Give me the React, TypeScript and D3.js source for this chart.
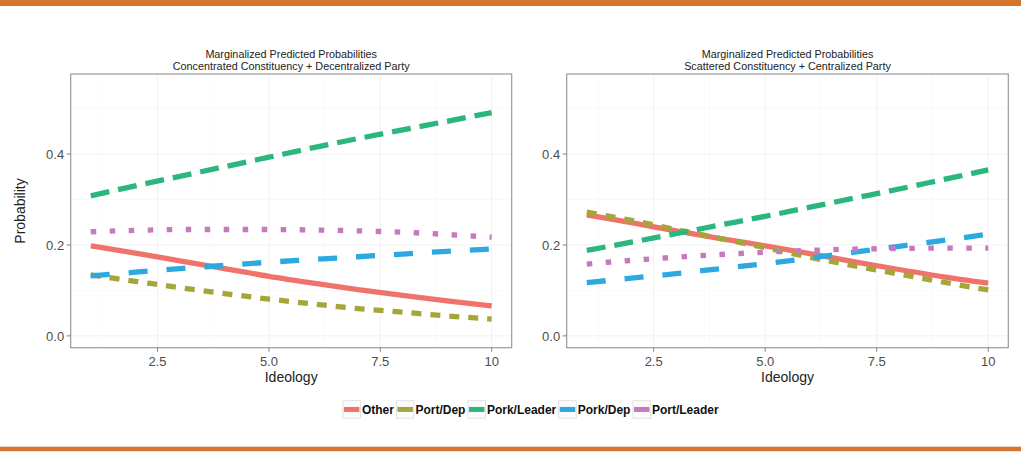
import * as d3 from "d3";

const ideology = [1, 2, 3, 4, 5, 6, 7, 8, 9, 10];

const seriesNames = ["Other", "Port/Dep", "Pork/Leader", "Pork/Dep", "Port/Leader"];
const seriesColors = ["#F0736B", "#A4A639", "#2BB67E", "#2CA9E1", "#C57AC0"];
const seriesDashes = ["none", "10 9", "19 9", "19 19", "5.5 13.5"];

// left panel: Concentrated Constituency + Decentralized Party
const leftOther = [0.198, 0.182, 0.165, 0.148, 0.131, 0.116, 0.102, 0.089, 0.077, 0.066];
const leftPortDep = [0.134, 0.12, 0.106, 0.093, 0.081, 0.07, 0.06, 0.052, 0.044, 0.037];
const leftPorkLeader = [0.308, 0.33, 0.351, 0.372, 0.393, 0.414, 0.434, 0.453, 0.472, 0.491];
const leftPorkDep = [0.132, 0.14, 0.148, 0.155, 0.162, 0.168, 0.174, 0.18, 0.186, 0.191];
const leftPortLeader = [0.229, 0.232, 0.234, 0.234, 0.234, 0.233, 0.231, 0.228, 0.223, 0.217];

// right panel: Scattered Constituency + Centralized Party
const rightOther = [0.266, 0.249, 0.231, 0.214, 0.198, 0.181, 0.163, 0.146, 0.13, 0.116];
const rightPortDep = [0.272, 0.254, 0.234, 0.214, 0.194, 0.173, 0.154, 0.136, 0.118, 0.101];
const rightPorkLeader = [0.188, 0.206, 0.225, 0.244, 0.263, 0.283, 0.303, 0.323, 0.344, 0.365];
const rightPorkDep = [0.117, 0.127, 0.137, 0.148, 0.159, 0.171, 0.184, 0.197, 0.21, 0.224];
const rightPortLeader = [0.158, 0.166, 0.173, 0.179, 0.184, 0.188, 0.191, 0.192, 0.193, 0.193];

const xTicks = [2.5, 5.0, 7.5, 10];
const xTickLabels = ["2.5", "5.0", "7.5", "10"];
const yTicks = [0, 0.2, 0.4];
const yTickLabels = ["0.0", "0.2", "0.4"];

const W = 1024;
const H = 453;
const FONT = "'Liberation Sans', Arial, Helvetica, sans-serif";
const ORANGE = "#D4742D";

const panels = [
  {
    title: ["Marginalized Predicted Probabilities", "Concentrated Constituency + Decentralized Party"],
    series: [leftOther, leftPortDep, leftPorkLeader, leftPorkDep, leftPortLeader],
    x0: 70.7,
    x1: 511.7,
  },
  {
    title: ["Marginalized Predicted Probabilities", "Scattered Constituency + Centralized Party"],
    series: [rightOther, rightPortDep, rightPorkLeader, rightPorkDep, rightPortLeader],
    x0: 566.7,
    x1: 1008.3,
  },
];

const top = 74;
const bottom = 347.7;

const y = d3.scaleLinear().domain([-0.026, 0.576]).range([bottom, top]);

function textWidth(s: string, font: string) {
  const c = document.createElement("canvas").getContext("2d");
  if (!c) return s.length * 7;
  c.font = font;
  return c.measureText(s).width;
}

function Panel({ p }: { p: (typeof panels)[number] }) {
  const x = d3.scaleLinear().domain([0.55, 10.45]).range([p.x0, p.x1]);
  const line = d3
    .line<number>()
    .x((_, i) => x(ideology[i]))
    .y((d) => y(d))
    .curve(d3.curveMonotoneX);
  const cx = (p.x0 + p.x1) / 2;
  const xMinor = xTicks.map((t) => t - 1.25);
  const yMinor = yTicks.map((t) => t + 0.1);
  return (
    <g>
      <rect x={p.x0} y={top} width={p.x1 - p.x0} height={bottom - top} fill="#fff" />
      {xMinor.map((t) => (
        <line key={"xm" + t} x1={x(t)} x2={x(t)} y1={top} y2={bottom} stroke="#f8f8f8" strokeWidth={0.8} />
      ))}
      {yMinor.map((t) => (
        <line key={"ym" + t} x1={p.x0} x2={p.x1} y1={y(t)} y2={y(t)} stroke="#f8f8f8" strokeWidth={0.8} />
      ))}
      {xTicks.map((t) => (
        <line key={"xg" + t} x1={x(t)} x2={x(t)} y1={top} y2={bottom} stroke="#f1f1f1" strokeWidth={1} />
      ))}
      {yTicks.map((t) => (
        <line key={"yg" + t} x1={p.x0} x2={p.x1} y1={y(t)} y2={y(t)} stroke="#f1f1f1" strokeWidth={1} />
      ))}
      {p.series.map((s, i) => (
        <path
          key={seriesNames[i]}
          d={line(s) || ""}
          fill="none"
          stroke={seriesColors[i]}
          strokeWidth={5.3}
          strokeDasharray={seriesDashes[i]}
          strokeLinecap="butt"
        />
      ))}
      <rect x={p.x0} y={top} width={p.x1 - p.x0} height={bottom - top} fill="none" stroke="#9a9a9a" strokeWidth={1.2} />
      {xTicks.map((t, i) => (
        <g key={"xt" + t}>
          <line x1={x(t)} x2={x(t)} y1={bottom} y2={bottom + 4} stroke="#7f7f7f" strokeWidth={1} />
          <text x={x(t)} y={365.5} textAnchor="middle" fontSize={13} fill="#4d4d4d" fontFamily={FONT}>
            {xTickLabels[i]}
          </text>
        </g>
      ))}
      {yTicks.map((t, i) => (
        <g key={"yt" + t}>
          <line x1={p.x0 - 4} x2={p.x0} y1={y(t)} y2={y(t)} stroke="#7f7f7f" strokeWidth={1} />
          <text x={p.x0 - 6.5} y={y(t)} dy="0.36em" textAnchor="end" fontSize={13} fill="#4d4d4d" fontFamily={FONT}>
            {yTickLabels[i]}
          </text>
        </g>
      ))}
      <text x={cx} y={382} textAnchor="middle" fontSize={14} fill="#222" fontFamily={FONT}>
        Ideology
      </text>
      {p.title.map((t, i) => (
        <text key={t} x={cx} y={58 + i * 11.5} textAnchor="middle" fontSize={10.8} fill="#222" fontFamily={FONT}>
          {t}
        </text>
      ))}
    </g>
  );
}

function Legend() {
  const font = `bold 12px ${FONT}`;
  const key = 17.5;
  const widths = seriesNames.map((n) => key + 1.5 + textWidth(n, font) + 2.5);
  const total = d3.sum(widths);
  const start = 532 - total / 2;
  const offsets = widths.map((_, i) => start + d3.sum(widths.slice(0, i)));
  const ky = 400.7;
  return (
    <g>
      {seriesNames.map((n, i) => (
        <g key={n} transform={`translate(${offsets[i]},${ky})`}>
          <rect x={0} y={0} width={key} height={key} fill="#fbfbfb" stroke="#dcdcdc" strokeWidth={0.8} />
          <line x1={1} x2={key - 1} y1={key / 2} y2={key / 2} stroke={seriesColors[i]} strokeWidth={5} />
          <text x={key + 1.5} y={13.2} fontSize={12} fontWeight="bold" fill="#111" fontFamily={FONT}>
            {n}
          </text>
        </g>
      ))}
    </g>
  );
}

export default function App() {
  return (
    <div style={{ position: "absolute", left: 0, top: 0 }}>
      <svg width={W} height={H} viewBox={`0 0 ${W} ${H}`} style={{ display: "block", background: "#fff" }}>
        <rect x={0} y={0} width={1021} height={6} fill={ORANGE} />
        <rect x={0} y={446.7} width={1021} height={4.5} fill={ORANGE} />
        {panels.map((p, i) => (
          <Panel key={i} p={p} />
        ))}
        <text
          transform={`translate(20,211) rotate(-90)`}
          dy="0.36em"
          textAnchor="middle"
          fontSize={14}
          fill="#222"
          fontFamily={FONT}
        >
          Probability
        </text>
        <Legend />
      </svg>
    </div>
  );
}
